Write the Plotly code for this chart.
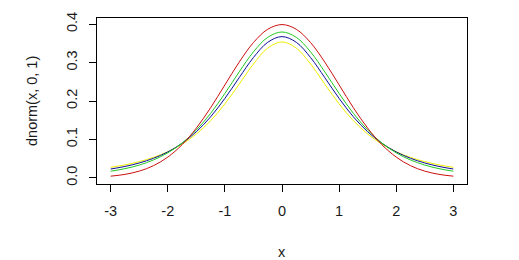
import plotly.graph_objects as go

x = [-3.0, -2.75, -2.5, -2.25, -2.0, -1.75, -1.5, -1.25, -1.0, -0.75, -0.5, -0.25,
     0.0, 0.25, 0.5, 0.75, 1.0, 1.25, 1.5, 1.75, 2.0, 2.25, 2.5, 2.75, 3.0]

red_vals = [0.0044, 0.0091, 0.0175, 0.0317, 0.0540, 0.0863, 0.1295, 0.1826, 0.2420, 0.3011, 0.3521, 0.3867,
            0.3989, 0.3867, 0.3521, 0.3011, 0.2420, 0.1826, 0.1295, 0.0863, 0.0540, 0.0317, 0.0175, 0.0091, 0.0044]
green_vals = [0.0173, 0.0239, 0.0333, 0.0466, 0.0651, 0.0905, 0.1245, 0.1679, 0.2197, 0.2757, 0.3279, 0.3657,
              0.3796, 0.3657, 0.3279, 0.2757, 0.2197, 0.1679, 0.1245, 0.0905, 0.0651, 0.0466, 0.0333, 0.0239, 0.0173]
blue_vals = [0.0230, 0.0297, 0.0387, 0.0509, 0.0675, 0.0900, 0.1200, 0.1589, 0.2068, 0.2607, 0.3132, 0.3528,
             0.3676, 0.3528, 0.3132, 0.2607, 0.2068, 0.1589, 0.1200, 0.0900, 0.0675, 0.0509, 0.0387, 0.0297, 0.0230]
yellow_vals = [0.0274, 0.0338, 0.0422, 0.0533, 0.0680, 0.0878, 0.1141, 0.1487, 0.1925, 0.2438, 0.2963, 0.3376,
               0.3536, 0.3376, 0.2963, 0.2438, 0.1925, 0.1487, 0.1141, 0.0878, 0.0680, 0.0533, 0.0422, 0.0338, 0.0274]

x_ticks = [-3, -2, -1, 0, 1, 2, 3]
y_ticks = [0.0, 0.1, 0.2, 0.3, 0.4]
y_tick_text = ["0.0", "0.1", "0.2", "0.3", "0.4"]

series = [
    (yellow_vals, "#eeee00"),
    (blue_vals, "#10109a"),
    (green_vals, "#22c822"),
    (red_vals, "#cc1010"),
]

fig = go.Figure()
for vals, col in series:
    fig.add_trace(go.Scatter(x=x, y=vals, mode="lines",
                             line=dict(color=col, width=1, shape="spline"),
                             showlegend=False, hoverinfo="skip"))

font = dict(family="Liberation Sans, Arial, sans-serif", size=14.5, color="#1a1a1a")

fig.update_layout(
    width=519, height=260,
    margin=dict(l=97, r=52, t=13, b=76),
    paper_bgcolor="white", plot_bgcolor="white",
    font=font,
)
fig.update_xaxes(range=[-3.24, 3.24], tickvals=x_ticks, ticktext=[str(v) for v in x_ticks],
                 showgrid=False, zeroline=False, showline=True, linecolor="black", linewidth=1,
                 mirror=True, ticks="outside", ticklen=7, tickcolor="black",
                 ticklabelstandoff=7)
fig.update_yaxes(range=[-0.016, 0.416], tickvals=y_ticks, ticktext=y_tick_text,
                 showgrid=False, zeroline=False, showline=True, linecolor="black", linewidth=1,
                 mirror=True, ticks="outside", ticklen=7, tickcolor="black",
                 tickangle=-90, ticklabelstandoff=6)

fig.add_annotation(text="x", xref="paper", yref="paper", x=0.5, y=0, yshift=-68,
                   showarrow=False, font=font, xanchor="center", yanchor="middle")
fig.add_annotation(text="dnorm(x, 0, 1)", xref="paper", yref="paper", x=0, y=0.5,
                   xshift=-65, showarrow=False, font=font, textangle=-90,
                   xanchor="center", yanchor="middle")

fig.write_html("out.html")
